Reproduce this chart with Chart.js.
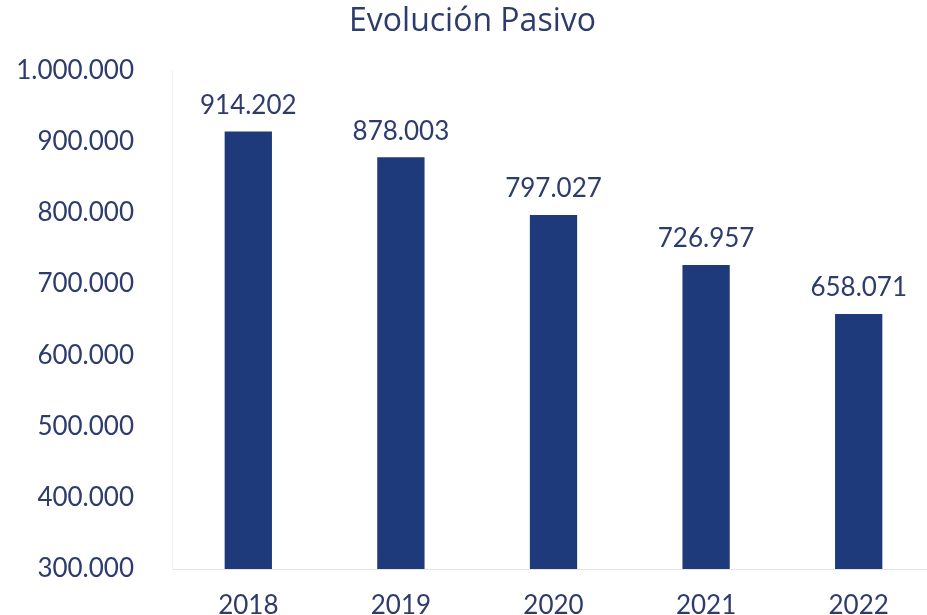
<!DOCTYPE html>
<html>
<head>
<meta charset="utf-8">
<script src="https://cdn.jsdelivr.net/npm/chart.js@4"></script>
<style>
  html, body { margin: 0; padding: 0; background: #fff; overflow: hidden; }
  #wrap { width: 945px; height: 615px; }
</style>
</head>
<body>
<div id="wrap"><canvas id="chart"></canvas></div>
<script>
const years = ['2018', '2019', '2020', '2021', '2022'];
const pasivo = [914202, 878003, 797027, 726957, 658071];
const yTicks = [300000, 400000, 500000, 600000, 700000, 800000, 900000, 1000000];

const navy = '#1f3a7a';
const textColor = '#2d3c6c';

// thousands with dots, es style
function fmt(v) {
    return String(Math.round(v)).replace(/\B(?=(\d{3})+(?!\d))/g, '.');
}

// labels above each bar
const barLabels = {
    id: 'barLabels',
    afterDatasetsDraw(chart) {
        const ctx = chart.ctx;
        const meta = chart.getDatasetMeta(0);
        ctx.save();
        ctx.font = '26px Lato';
        ctx.fillStyle = textColor;
        ctx.textAlign = 'center';
        ctx.textBaseline = 'bottom';
        meta.data.forEach((bar, i) => {
            ctx.fillText(fmt(pasivo[i]), bar.x, bar.y - 13);
        });
        ctx.restore();
    }
};

new Chart(document.getElementById('chart'), {
    type: 'bar',
    data: {
        labels: years,
        datasets: [{
            data: pasivo,
            backgroundColor: navy,
            categoryPercentage: 1,
            barPercentage: 0.31
        }]
    },
    options: {
        responsive: true,
        maintainAspectRatio: false,
        animation: false,
        layout: { padding: { left: 10, right: 10, top: 0, bottom: 0 } },
        plugins: {
            legend: { display: false },
            tooltip: { enabled: false },
            title: {
                display: true,
                text: 'Evolución Pasivo',
                color: textColor,
                font: { family: 'Open Sans', size: 32, weight: 'normal' },
                padding: { top: 3, bottom: 29 }
            }
        },
        scales: {
            x: {
                grid: { display: false },
                border: { color: '#e4e4e4', width: 1 },
                afterFit(scale) { scale.height = 46; },
                ticks: {
                    color: textColor,
                    font: { family: 'Lato', size: 26 },
                    padding: 13
                }
            },
            y: {
                min: 300000,
                max: 1000000,
                grid: { display: false },
                border: { color: '#f0f0f0', width: 1 },
                afterFit(scale) { scale.width = 162; },
                afterBuildTicks(scale) {
                    scale.ticks = yTicks.map(v => ({ value: v }));
                },
                ticks: {
                    color: textColor,
                    font: { family: 'Lato', size: 26 },
                    padding: 30,
                    callback: v => fmt(v)
                }
            }
        }
    },
    plugins: [barLabels]
});
</script>
</body>
</html>
